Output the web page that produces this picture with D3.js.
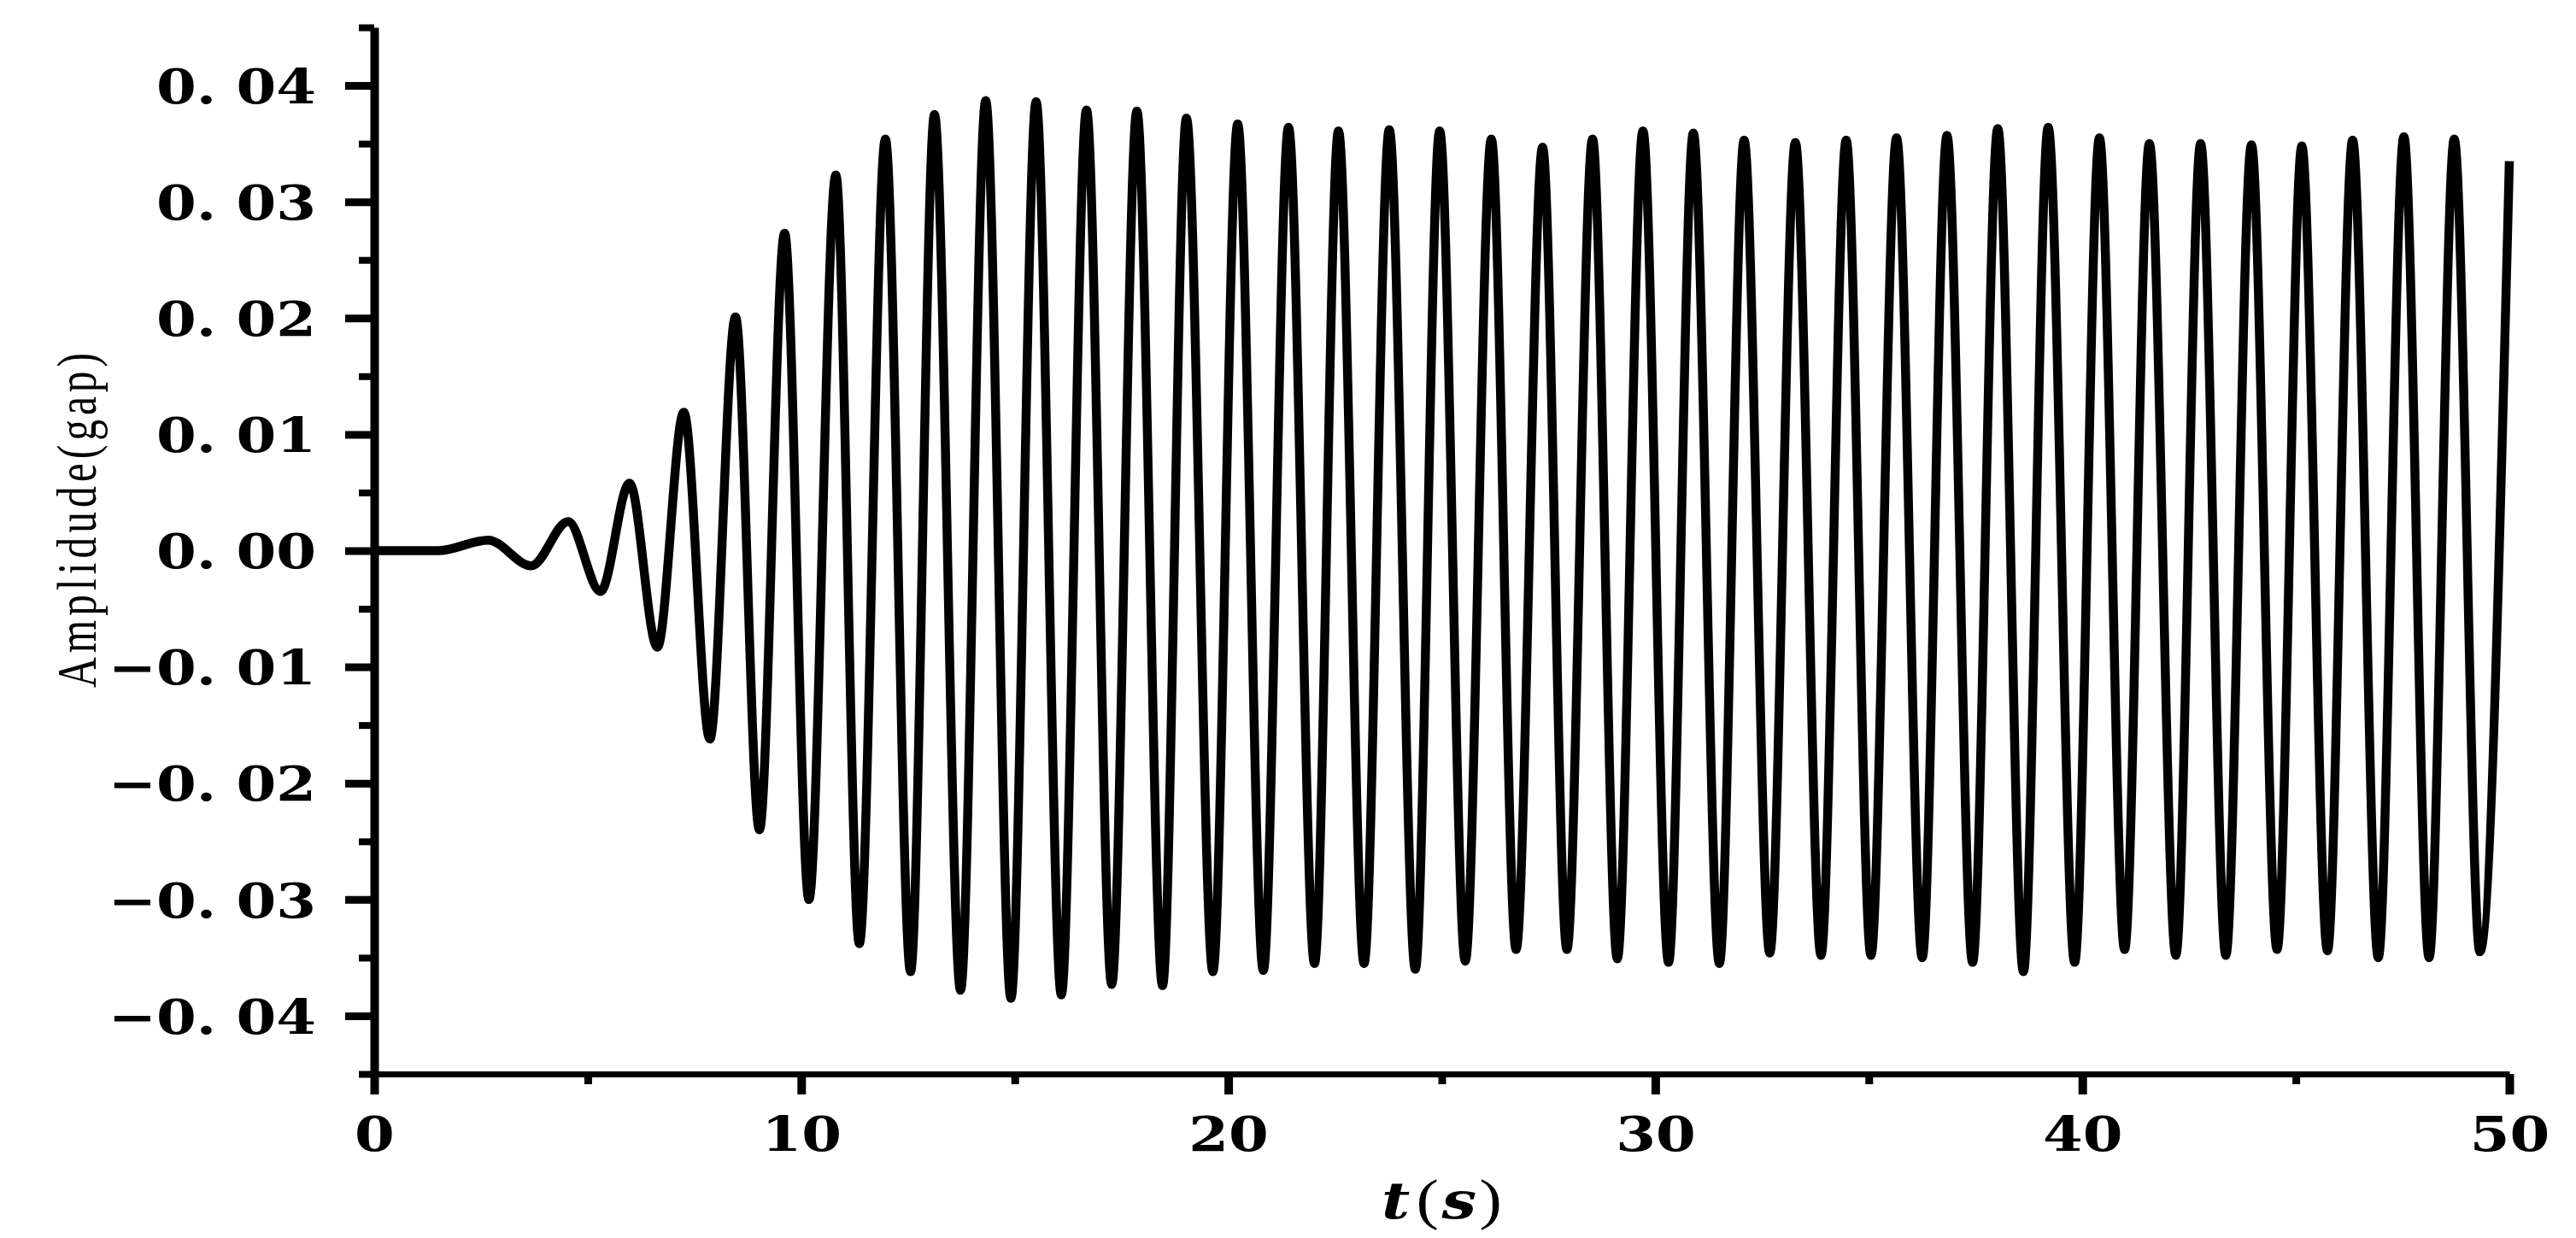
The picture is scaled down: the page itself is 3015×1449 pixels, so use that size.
<!DOCTYPE html>
<html>
<head>
<meta charset="utf-8">
<script src="https://cdn.jsdelivr.net/npm/d3@7"></script>
<style>
  body { margin: 0; background: #fff; }
  svg { display: block; }
</style>
</head>
<body>
<script>
// peaks and troughs of the response
// time (s)
let times = [
  0, 1.5, 2.67, 3.68, 4.54, 5.30, 5.98, 6.63, 7.25, 7.86,
  8.46, 9.02, 9.61, 10.18, 10.81, 11.36, 11.97, 12.56, 13.12, 13.73,
  14.32, 14.91, 15.50, 16.09, 16.68, 17.27, 17.86, 18.46, 19.02, 19.64,
  20.22, 20.82, 21.41, 22.02, 22.58, 23.18, 23.77, 24.38, 24.95, 25.55,
  26.16, 26.74, 27.36, 27.93, 28.53, 29.11, 29.71, 30.31, 30.89, 31.50,
  32.08, 32.68, 33.28, 33.88, 34.47, 35.05, 35.65, 36.25, 36.83, 37.43,
  38.02, 38.62, 39.20, 39.82, 40.40, 40.99, 41.57, 42.19, 42.77, 43.36,
  43.96, 44.56, 45.14, 45.74, 46.33, 46.93, 47.53, 48.12, 48.71, 49.31,
  50
];
// amplitude (gap)
let amplitude = [
  0, 0, 0.0009, -0.0013, 0.0025, -0.0035, 0.0058, -0.0083, 0.0119, -0.0162,
  0.0201, -0.0240, 0.0273, -0.0300, 0.0323, -0.0338, 0.0354, -0.0362, 0.0375, -0.0378,
  0.0387, -0.0385, 0.0386, -0.0382, 0.0379, -0.0373, 0.0378, -0.0374, 0.0372, -0.0362,
  0.0367, -0.0361, 0.0364, -0.0355, 0.0361, -0.0355, 0.0362, -0.0360, 0.0361, -0.0353,
  0.0354, -0.0343, 0.0347, -0.0343, 0.0354, -0.0351, 0.0361, -0.0354, 0.0359, -0.0355,
  0.0353, -0.0346, 0.0351, -0.0348, 0.0353, -0.0348, 0.0355, -0.0350, 0.0357, -0.0354,
  0.0363, -0.0362, 0.0364, -0.0354, 0.0355, -0.0343, 0.0350, -0.0348, 0.0350, -0.0348,
  0.0349, -0.0343, 0.0348, -0.0344, 0.0353, -0.0350, 0.0356, -0.0350, 0.0354, -0.0345,
  0.0335
];

let xMajor = [0, 10, 20, 30, 40, 50];
let xMinor = [5, 15, 25, 35, 45];
let xTickLabels = ["0", "10", "20", "30", "40", "50"];
let yMajor = [-0.04, -0.03, -0.02, -0.01, 0, 0.01, 0.02, 0.03, 0.04];
let yMinor = [-0.045, -0.035, -0.025, -0.015, -0.005, 0.005, 0.015, 0.025, 0.035, 0.045];
let yTickLabels = ["\u22120. 04", "\u22120. 03", "\u22120. 02", "\u22120. 01", "0. 00", "0. 01", "0. 02", "0. 03", "0. 04"];

let w = 3015, h = 1449;
let margin = {top: 32, right: 78, bottom: 192, left: 438};

let x = d3.scaleLinear().domain([0, 50]).range([margin.left, w - margin.right]);
let y = d3.scaleLinear().domain([-0.045, 0.045]).range([h - margin.bottom, margin.top]);

let svg = d3.select("body").append("svg")
  .attr("width", w)
  .attr("height", h)
  .style("background", "#fff");

let boldFont = "'DejaVu Serif', serif";

// y axis: minor ticks first, then major ticks with labels
svg.append("g")
  .attr("transform", "translate(" + margin.left + ",0)")
  .call(d3.axisLeft(y).tickValues(yMinor).tickSize(18).tickSizeOuter(0).tickFormat(""))
  .call(g => g.select(".domain").remove())
  .selectAll("line").attr("stroke", "#000").attr("stroke-width", 8);

let yAxis = svg.append("g")
  .attr("transform", "translate(" + margin.left + ",0)")
  .call(d3.axisLeft(y).tickValues(yMajor).tickSize(34).tickSizeOuter(0)
    .tickFormat((d, i) => yTickLabels[i]));

yAxis.select(".domain").attr("stroke", "#000").attr("stroke-width", 10);
yAxis.selectAll(".tick line").attr("stroke", "#000").attr("stroke-width", 9);
yAxis.selectAll(".tick text")
  .attr("font-family", boldFont)
  .attr("font-weight", "bold")
  .attr("font-size", 56)
  .attr("fill", "#000")
  .attr("x", -68 / 1.2)
  .attr("dy", "0.36em")
  .attr("transform", "scale(1.2,1)");

// x axis
let xBase = h - margin.bottom;

svg.append("g")
  .attr("transform", "translate(0," + xBase + ")")
  .call(d3.axisBottom(x).tickValues(xMinor).tickSize(12).tickSizeOuter(0).tickFormat(""))
  .call(g => g.select(".domain").remove())
  .selectAll("line").attr("stroke", "#000").attr("stroke-width", 9);

let xAxis = svg.append("g")
  .attr("transform", "translate(0," + xBase + ")")
  .call(d3.axisBottom(x).tickValues(xMajor).tickSize(24).tickSizeOuter(0)
    .tickFormat((d, i) => xTickLabels[i]));

xAxis.select(".domain").attr("stroke", "#000").attr("stroke-width", 7);
xAxis.selectAll(".tick line").attr("stroke", "#000").attr("stroke-width", 10);
xAxis.selectAll(".tick text")
  .attr("font-family", boldFont)
  .attr("font-weight", "bold")
  .attr("font-size", 56)
  .attr("fill", "#000")
  .attr("y", 90)
  .attr("dy", 0)
  .attr("transform", "scale(1.2,1)");

// the response curve
let points = times.map((t, i) => ({t: t, v: amplitude[i]}));

let line = d3.line()
  .x(d => x(d.t))
  .y(d => y(d.v))
  .curve(d3.curveMonotoneX);

svg.append("path")
  .datum(points)
  .attr("d", line)
  .attr("fill", "none")
  .attr("stroke", "#000")
  .attr("stroke-width", 10.5)
  .attr("stroke-linejoin", "round");

// axis titles
let xt = svg.append("text")
  .attr("transform", "translate(" + (x(0) + x(50)) / 2 + ",1426) scale(1.2,1)")
  .attr("text-anchor", "middle")
  .attr("fill", "#000");
xt.append("tspan").text("t")
  .attr("font-family", boldFont).attr("font-style", "italic").attr("font-weight", "bold").attr("font-size", 60);
xt.append("tspan").text("(").attr("dx", 6)
  .attr("font-family", "'Liberation Serif', serif").attr("font-size", 66);
xt.append("tspan").text("s").attr("dx", 3)
  .attr("font-family", boldFont).attr("font-style", "italic").attr("font-weight", "bold").attr("font-size", 60);
xt.append("tspan").text(")").attr("dx", 3)
  .attr("font-family", "'Liberation Serif', serif").attr("font-size", 66);

svg.append("text")
  .attr("transform", "translate(112,609) rotate(-90) scale(0.75,1)")
  .attr("text-anchor", "middle")
  .attr("font-family", "'Liberation Serif', serif")
  .attr("font-size", 66)
  .attr("fill", "#000")
  .attr("textLength", 523)
  .attr("lengthAdjust", "spacing")
  .text("Amplidude(gap)");
</script>
</body>
</html>
